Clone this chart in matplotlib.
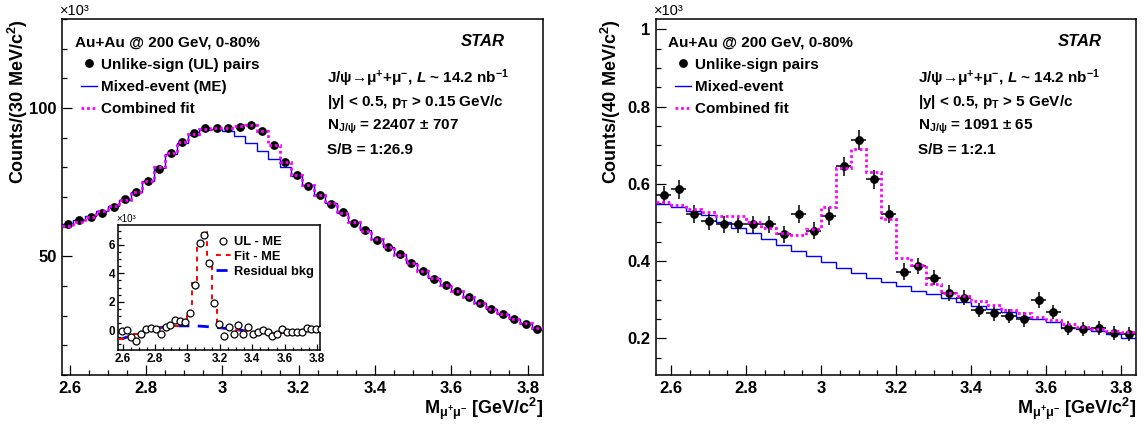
import numpy as np
import matplotlib
matplotlib.use('Agg')
import matplotlib.pyplot as plt
from matplotlib.lines import Line2D
from matplotlib.ticker import MultipleLocator

plt.rcParams['font.family'] = ['Liberation Sans', 'DejaVu Sans']
plt.rcParams['font.weight'] = 'bold'
plt.rcParams['mathtext.fontset'] = 'custom'
plt.rcParams['mathtext.rm'] = 'Liberation Sans:bold'
plt.rcParams['mathtext.it'] = 'Liberation Sans:italic:bold'
plt.rcParams['mathtext.bf'] = 'Liberation Sans:bold'
plt.rcParams['mathtext.sf'] = 'Liberation Sans:bold'
plt.rcParams['mathtext.default'] = 'rm'

# ---------------- data: left panel (pT > 0.15 GeV/c), 30 MeV bins, x10^3 counts
left_lo, left_hi, left_nbins = 2.58, 3.84, 42
ul_left = [60.8, 62.2, 63.3, 64.6, 66.7, 69.2, 71.7, 75.4, 79.6, 84.9, 88.5, 91.6,
           93.1, 93.4, 93.3, 93.7, 94.4, 92.2, 87.5, 81.9, 77.4, 73.6, 70.8, 67.6,
           65.0, 61.4, 59.0, 55.6, 53.1, 50.7, 47.7, 45.0, 42.5, 40.5, 38.3, 36.3,
           34.2, 32.3, 30.6, 28.8, 27.3, 25.6]
me_left = [60.85, 62.2, 63.75, 65.4, 66.95, 69.15, 71.55, 75.3, 79.9, 84.65, 88.15, 90.9,
           92.45, 92.85, 92.1, 90.5, 88.3, 85.5, 82.8, 80.0, 76.95, 74.0, 70.6, 67.85,
           64.65, 61.7, 58.75, 55.9, 53.2, 50.7, 47.85, 45.4, 42.8, 40.4, 38.4, 36.4,
           34.3, 32.4, 30.45, 28.75, 27.2, 25.55]
# Fit - ME (residual background + signal), per bin
fitme_left = [-0.62, -0.50, -0.38, -0.26, -0.15, -0.05, 0.04, 0.12, 0.18, 0.23, 0.27, 0.30,
              0.35, 0.55, 1.20, 3.29, 6.03, 6.91, 4.58, 1.90, 0.52, 0.18, 0.09, 0.05,
              0.01, -0.03, -0.07, -0.10, -0.13, -0.15, -0.17, -0.18, -0.18, -0.17, -0.15, -0.12,
              -0.08, -0.03, 0.03, 0.09, 0.16, 0.23]
# residual background curve
resid_left = [-0.62, -0.50, -0.38, -0.26, -0.15, -0.05, 0.04, 0.12, 0.18, 0.23, 0.27, 0.29,
              0.30, 0.30, 0.30, 0.29, 0.28, 0.26, 0.23, 0.20, 0.17, 0.13, 0.09, 0.05,
              0.01, -0.03, -0.07, -0.10, -0.13, -0.15, -0.17, -0.18, -0.18, -0.17, -0.15, -0.12,
              -0.08, -0.03, 0.03, 0.09, 0.16, 0.23]

# ---------------- data: right panel (pT > 5 GeV/c), 40 MeV bins, x10^3 counts
right_lo, right_hi, right_nbins = 2.56, 3.84, 32
ul_right = [0.570, 0.586, 0.521, 0.504, 0.495, 0.495, 0.495, 0.495, 0.469, 0.521, 0.478, 0.517,
            0.645, 0.713, 0.612, 0.521, 0.373, 0.387, 0.357, 0.317, 0.305, 0.273, 0.265, 0.258,
            0.249, 0.299, 0.268, 0.226, 0.223, 0.226, 0.213, 0.212]
err_right = [0.024, 0.024, 0.023, 0.023, 0.023, 0.023, 0.023, 0.023, 0.022, 0.023, 0.022, 0.023,
             0.025, 0.026, 0.025, 0.023, 0.021, 0.021, 0.020, 0.020, 0.020, 0.019, 0.019, 0.019,
             0.019, 0.020, 0.019, 0.018, 0.018, 0.018, 0.018, 0.018]
me_right = [0.548, 0.540, 0.530, 0.519, 0.500, 0.487, 0.472, 0.456, 0.441, 0.426, 0.413, 0.398,
            0.383, 0.370, 0.357, 0.346, 0.335, 0.323, 0.314, 0.304, 0.294, 0.284, 0.275, 0.267,
            0.256, 0.251, 0.241, 0.228, 0.225, 0.219, 0.210, 0.202]
fit_right = [0.552, 0.545, 0.535, 0.527, 0.517, 0.517, 0.500, 0.487, 0.474, 0.467, 0.482, 0.539,
             0.640, 0.691, 0.631, 0.508, 0.409, 0.389, 0.340, 0.318, 0.310, 0.297, 0.285, 0.273,
             0.265, 0.256, 0.247, 0.236, 0.230, 0.225, 0.219, 0.216]

legend_left = ['Unlike-sign (UL) pairs', 'Mixed-event (ME)', 'Combined fit']
legend_right = ['Unlike-sign pairs', 'Mixed-event', 'Combined fit']
inset_labels = ['UL - ME', 'Fit - ME', 'Residual bkg']

BLUE = '#0000ff'
MAG = '#ff00ff'
RED = '#ff0000'
FS = 11

fig = plt.figure(figsize=(11.46, 4.26), dpi=100)
W, H = 1146.0, 426.0

def axes_px(x0, y0, x1, y1):
    return fig.add_axes([x0 / W, 1 - y1 / H, (x1 - x0) / W, (y1 - y0) / H])

ax1 = axes_px(62, 19, 543, 375)
ax2 = axes_px(656, 19, 1136, 375)


def style(ax, fs=12, major=7.2, minor=3.6, pad=3):
    ax.tick_params(which='both', direction='in', top=False, right=False, width=0.9,
                   labelsize=fs)
    ax.tick_params(which='major', length=major, pad=pad)
    ax.tick_params(which='minor', length=minor)
    for s in ax.spines.values():
        s.set_linewidth(1.1)
    for lab in ax.get_xticklabels() + ax.get_yticklabels():
        lab.set_fontweight('bold')

xt = [2.6, 2.8, 3.0, 3.2, 3.4, 3.6, 3.8]
xtl = ['2.6', '2.8', '3', '3.2', '3.4', '3.6', '3.8']

# ---------------- left panel
e1 = np.linspace(left_lo, left_hi, left_nbins + 1)
c1 = 0.5 * (e1[:-1] + e1[1:])
ul1 = np.array(ul_left)
me1 = np.array(me_left)
fitme1 = np.array(fitme_left)

ax1.stairs(me1, e1, baseline=None, color=BLUE, lw=1.0, zorder=2)
ax1.plot(c1, ul1, 'o', color='k', ms=5.3, zorder=3)
ax1.stairs(me1 + fitme1, e1, baseline=None, color=MAG, lw=2.0, ls=(0, (1, 1)), zorder=4)
ax1.set_xlim(left_lo, left_hi)
ax1.set_ylim(10, 130)
ax1.set_xticks(xt, xtl)
ax1.xaxis.set_minor_locator(MultipleLocator(0.05))
ax1.yaxis.set_major_locator(MultipleLocator(50))
ax1.yaxis.set_minor_locator(MultipleLocator(10))
style(ax1, pad=4)

# ---------------- right panel
e2 = np.linspace(right_lo, right_hi, right_nbins + 1)
c2 = 0.5 * (e2[:-1] + e2[1:])
ax2.stairs(me_right, e2, baseline=None, color=BLUE, lw=1.0, zorder=2)
ax2.errorbar(c2, ul_right, yerr=err_right, xerr=0.5 * (e2[1] - e2[0]), fmt='o', color='k',
             ms=5.3, elinewidth=1.1, capsize=0, zorder=3)
ax2.stairs(fit_right, e2, baseline=None, color=MAG, lw=2.0, ls=(0, (1, 1)), zorder=4)
ax2.set_xlim(right_lo, right_hi)
ax2.set_ylim(0.105, 1.027)
ax2.set_xticks(xt, xtl)
ax2.xaxis.set_minor_locator(MultipleLocator(0.05))
ax2.set_yticks([0.2, 0.4, 0.6, 0.8, 1.0], ['0.2', '0.4', '0.6', '0.8', '1'])
ax2.yaxis.set_minor_locator(MultipleLocator(0.05))
style(ax2, pad=4)

# ---------------- axis titles
for ax, ylab in ((ax1, r'Counts/(30 MeV/c$^{2}$)'), (ax2, r'Counts/(40 MeV/c$^{2}$)')):
    ax.set_ylabel(ylab, loc='top', fontsize=13, fontweight='bold')
    ax.yaxis.set_label_coords(-0.066 if ax is ax1 else -0.068, 1.0)
    ax.set_xlabel(r'M$_{\mu^{+}\mu^{-}}$ [GeV/c$^{2}$]', loc='right', fontsize=13,
                  fontweight='bold')
    ax.xaxis.set_label_coords(1.0, -0.058)
    ax.text(-0.004, 1.004, '\u00d710\u00b3', transform=ax.transAxes, fontsize=10.5,
            fontweight='normal', ha='left', va='bottom')

# ---------------- legends and labels
def main_legend(ax, labels):
    handles = [Line2D([], [], marker='o', color='k', ls='none', ms=5.3),
               Line2D([], [], color=BLUE, lw=1.0),
               Line2D([], [], color=MAG, lw=2.0, ls=(0, (1, 1)))]
    leg = ax.legend(handles, labels, loc='upper left', bbox_to_anchor=(0.040, 0.891),
                    frameon=False, fontsize=FS, handlelength=1.05, handletextpad=0.25,
                    labelspacing=0.53, borderpad=0, borderaxespad=0)
    for t in leg.get_texts():
        t.set_fontweight('bold')


main_legend(ax1, legend_left)
main_legend(ax2, legend_right)

for ax, xs, xr in ((ax1, 0.027, 0.921), (ax2, 0.025, 0.929)):
    ax.text(xs, 0.9228, 'Au+Au @ 200 GeV, 0-80%', transform=ax.transAxes, fontsize=FS,
            fontweight='bold', va='baseline', ha='left')
    ax.text(xr, 0.9228, 'STAR', transform=ax.transAxes, fontsize=12, fontweight='bold',
            style='italic', va='baseline', ha='right')

block_left = ['J/$\\psi$\u2192$\\mu^{+}$+$\\mu^{-}$, $\\mathit{L}$ ~ 14.2 nb$^{-1}$',
              r'|y| < 0.5, p$_{\mathrm{T}}$ > 0.15 GeV/c',
              r'N$_{\mathrm{J/\psi}}$ = 22407 $\pm$ 707',
              'S/B = 1:26.9']
block_right = ['J/$\\psi$\u2192$\\mu^{+}$+$\\mu^{-}$, $\\mathit{L}$ ~ 14.2 nb$^{-1}$',
               r'|y| < 0.5, p$_{\mathrm{T}}$ > 5 GeV/c',
               r'N$_{\mathrm{J/\psi}}$ = 1091 $\pm$ 65',
               'S/B = 1:2.1']
rows = [0.819, 0.755, 0.689, 0.6216]
for txt, yy in zip(block_left, rows):
    ax1.text(0.551, yy, txt, transform=ax1.transAxes, fontsize=FS, fontweight='bold',
             va='baseline', ha='left')
for txt, yy in zip(block_right, rows):
    ax2.text(0.546, yy, txt, transform=ax2.transAxes, fontsize=FS, fontweight='bold',
             va='baseline', ha='left')

# ---------------- inset
axi = axes_px(118, 225, 320, 350)
diff1 = ul1 - me1
axi.stairs(fitme1, e1, baseline=None, color=RED, lw=1.4, ls=(0, (2.5, 2.5)), zorder=3)
axi.plot(c1, resid_left, color=BLUE, lw=2.0, ls=(0, (4, 3)), zorder=2)
axi.plot(c1, diff1, 'o', mfc='white', mec='k', mew=0.9, ms=5.0, zorder=4)
axi.set_xlim(2.572, 3.818)
axi.set_ylim(-1.4, 7.4)
axi.set_xticks(xt, xtl)
axi.xaxis.set_minor_locator(MultipleLocator(0.05))
axi.set_yticks([0, 2, 4, 6])
axi.yaxis.set_minor_locator(MultipleLocator(0.5))
style(axi, fs=8.5, major=4.5, minor=2.2, pad=2)
axi.text(-0.01, 1.004, '\u00d710\u00b3', transform=axi.transAxes, fontsize=7,
         fontweight='normal', ha='left', va='bottom')
ih = [Line2D([], [], marker='o', mfc='white', mec='k', mew=0.9, ls='none', ms=5.0),
      Line2D([], [], color=RED, lw=1.4, ls=(0, (2.5, 2.5))),
      Line2D([], [], color=BLUE, lw=2.0, ls=(0, (4, 3)))]
ileg = axi.legend(ih, inset_labels, loc='upper left', bbox_to_anchor=(0.485, 0.91),
                  frameon=False, fontsize=9.3, handlelength=1.15, handletextpad=0.25,
                  labelspacing=0.2, borderpad=0, borderaxespad=0)
for t in ileg.get_texts():
    t.set_fontweight('bold')

fig.savefig('out.png', dpi=100)
